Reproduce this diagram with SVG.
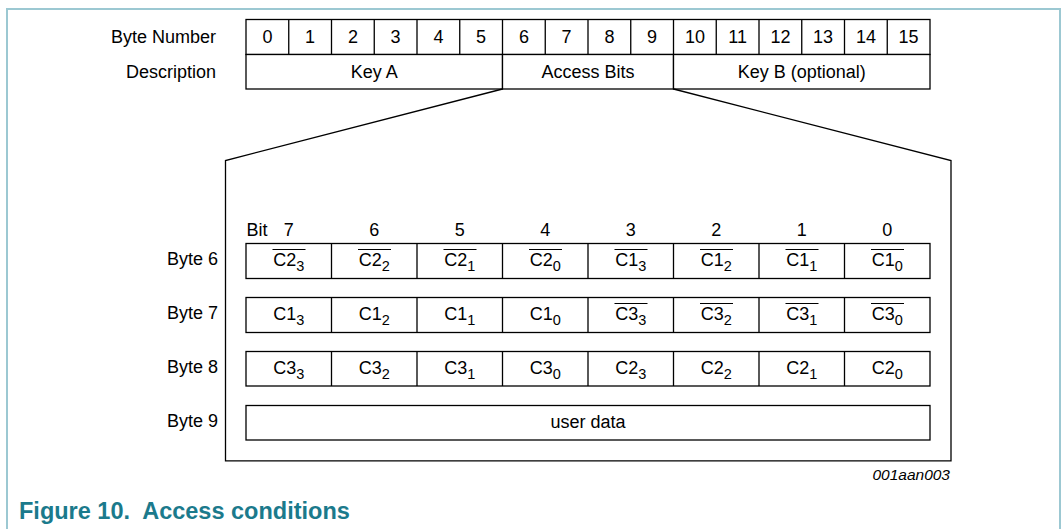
<svg xmlns="http://www.w3.org/2000/svg" width="1061" height="529" viewBox="0 0 1061 529">
<style>
text{font-family:"Liberation Sans",Arial,sans-serif;font-size:18px;fill:#000}
.c{text-anchor:middle}
.r{text-anchor:end}
.sub{font-size:14.5px}
.cell{fill:#fff;stroke:#000;stroke-width:1.3}
.ln{stroke:#000;stroke-width:1.3;fill:none}
.ov{stroke:#000;stroke-width:1.2}
.cap{font-weight:bold;font-size:23.5px;fill:#1b7a8c}
.id{font-style:italic;font-size:15.5px}
</style>
<rect width="1061" height="529" fill="#fff"/>
<path d="M7 529 V9 H1060 V529" fill="none" stroke="#9cc8d2" stroke-width="2"/>

<g id="header-labels">
<text class="r" x="216" y="43">Byte Number</text>
<text class="r" x="216" y="78">Description</text>
</g>

<g id="byte-number-row">
<rect class="cell" x="246" y="19.5" width="684" height="35"/>
<path class="ln" d="M288.75 19.5V54.5M331.5 19.5V54.5M374.25 19.5V54.5M417 19.5V54.5M459.75 19.5V54.5M502.5 19.5V54.5M545.25 19.5V54.5M588 19.5V54.5M630.75 19.5V54.5M673.5 19.5V54.5M716.25 19.5V54.5M759 19.5V54.5M801.75 19.5V54.5M844.5 19.5V54.5M887.25 19.5V54.5"/>
<text class="c" x="267.4" y="43">0</text>
<text class="c" x="310.1" y="43">1</text>
<text class="c" x="352.9" y="43">2</text>
<text class="c" x="395.6" y="43">3</text>
<text class="c" x="438.4" y="43">4</text>
<text class="c" x="481.1" y="43">5</text>
<text class="c" x="523.9" y="43">6</text>
<text class="c" x="566.6" y="43">7</text>
<text class="c" x="609.4" y="43">8</text>
<text class="c" x="652.1" y="43">9</text>
<text class="c" x="694.9" y="43">10</text>
<text class="c" x="737.6" y="43">11</text>
<text class="c" x="780.4" y="43">12</text>
<text class="c" x="823.1" y="43">13</text>
<text class="c" x="865.9" y="43">14</text>
<text class="c" x="908.6" y="43">15</text>
</g>

<g id="key-a">
<rect class="cell" x="246" y="54.5" width="256.5" height="34.5"/>
<text class="c" x="374.25" y="78">Key A</text>
</g>
<g id="access-bits">
<rect class="cell" x="502.5" y="54.5" width="171" height="34.5"/>
<text class="c" x="588" y="78">Access Bits</text>
</g>
<g id="key-b">
<rect class="cell" x="673.5" y="54.5" width="256.5" height="34.5"/>
<text class="c" x="801.75" y="78">Key B (optional)</text>
</g>

<g id="connectors">
<path class="ln" d="M502.5 89 L225.5 160.5 V460.8 H951 V160.5 L673.5 89" stroke-width="1.5"/>
</g>

<g id="bit-labels">
<text x="246.5" y="235.5">Bit</text>
<text class="c" x="288.75" y="235.5">7</text>
<text class="c" x="374.25" y="235.5">6</text>
<text class="c" x="459.75" y="235.5">5</text>
<text class="c" x="545.25" y="235.5">4</text>
<text class="c" x="630.75" y="235.5">3</text>
<text class="c" x="716.25" y="235.5">2</text>
<text class="c" x="801.75" y="235.5">1</text>
<text class="c" x="887.25" y="235.5">0</text>
</g>

<g id="byte6">
<text class="r" x="218" y="264.5">Byte 6</text>
<rect class="cell" x="246" y="243.5" width="684" height="35"/>
<path class="ln" d="M331.5 243.5V278.5M417 243.5V278.5M502.5 243.5V278.5M588 243.5V278.5M673.5 243.5V278.5M759 243.5V278.5M844.5 243.5V278.5"/>
<text class="c" x="288.75" y="265.5">C2<tspan class="sub" dy="5.5">3</tspan></text>
<text class="c" x="374.25" y="265.5">C2<tspan class="sub" dy="5.5">2</tspan></text>
<text class="c" x="459.75" y="265.5">C2<tspan class="sub" dy="5.5">1</tspan></text>
<text class="c" x="545.25" y="265.5">C2<tspan class="sub" dy="5.5">0</tspan></text>
<text class="c" x="630.75" y="265.5">C1<tspan class="sub" dy="5.5">3</tspan></text>
<text class="c" x="716.25" y="265.5">C1<tspan class="sub" dy="5.5">2</tspan></text>
<text class="c" x="801.75" y="265.5">C1<tspan class="sub" dy="5.5">1</tspan></text>
<text class="c" x="887.25" y="265.5">C1<tspan class="sub" dy="5.5">0</tspan></text>
<path class="ov" d="M272.5 249.5H305.5M358 249.5H391M443.5 249.5H476.5M529 249.5H562M614.5 249.5H647.5M700 249.5H733M785.5 249.5H818.5M871 249.5H904"/>
</g>

<g id="byte7">
<text class="r" x="218" y="318.5">Byte 7</text>
<rect class="cell" x="246" y="297.5" width="684" height="35"/>
<path class="ln" d="M331.5 297.5V332.5M417 297.5V332.5M502.5 297.5V332.5M588 297.5V332.5M673.5 297.5V332.5M759 297.5V332.5M844.5 297.5V332.5"/>
<text class="c" x="288.75" y="319.5">C1<tspan class="sub" dy="5.5">3</tspan></text>
<text class="c" x="374.25" y="319.5">C1<tspan class="sub" dy="5.5">2</tspan></text>
<text class="c" x="459.75" y="319.5">C1<tspan class="sub" dy="5.5">1</tspan></text>
<text class="c" x="545.25" y="319.5">C1<tspan class="sub" dy="5.5">0</tspan></text>
<text class="c" x="630.75" y="319.5">C3<tspan class="sub" dy="5.5">3</tspan></text>
<text class="c" x="716.25" y="319.5">C3<tspan class="sub" dy="5.5">2</tspan></text>
<text class="c" x="801.75" y="319.5">C3<tspan class="sub" dy="5.5">1</tspan></text>
<text class="c" x="887.25" y="319.5">C3<tspan class="sub" dy="5.5">0</tspan></text>
<path class="ov" d="M614.5 303.5H647.5M700 303.5H733M785.5 303.5H818.5M871 303.5H904"/>
</g>

<g id="byte8">
<text class="r" x="218" y="372.5">Byte 8</text>
<rect class="cell" x="246" y="351.5" width="684" height="34.5"/>
<path class="ln" d="M331.5 351.5V386M417 351.5V386M502.5 351.5V386M588 351.5V386M673.5 351.5V386M759 351.5V386M844.5 351.5V386"/>
<text class="c" x="288.75" y="373.5">C3<tspan class="sub" dy="5.5">3</tspan></text>
<text class="c" x="374.25" y="373.5">C3<tspan class="sub" dy="5.5">2</tspan></text>
<text class="c" x="459.75" y="373.5">C3<tspan class="sub" dy="5.5">1</tspan></text>
<text class="c" x="545.25" y="373.5">C3<tspan class="sub" dy="5.5">0</tspan></text>
<text class="c" x="630.75" y="373.5">C2<tspan class="sub" dy="5.5">3</tspan></text>
<text class="c" x="716.25" y="373.5">C2<tspan class="sub" dy="5.5">2</tspan></text>
<text class="c" x="801.75" y="373.5">C2<tspan class="sub" dy="5.5">1</tspan></text>
<text class="c" x="887.25" y="373.5">C2<tspan class="sub" dy="5.5">0</tspan></text>
</g>

<g id="byte9">
<text class="r" x="218" y="426.5">Byte 9</text>
<rect class="cell" x="246" y="405.5" width="684" height="34.5"/>
<text class="c" x="588" y="428">user data</text>
</g>

<g id="figure-id">
<text class="id r" x="950" y="480">001aan003</text>
</g>
<g id="caption">
<text class="cap" x="19" y="518.5" xml:space="preserve">Figure 10.  Access conditions</text>
</g>
</svg>
